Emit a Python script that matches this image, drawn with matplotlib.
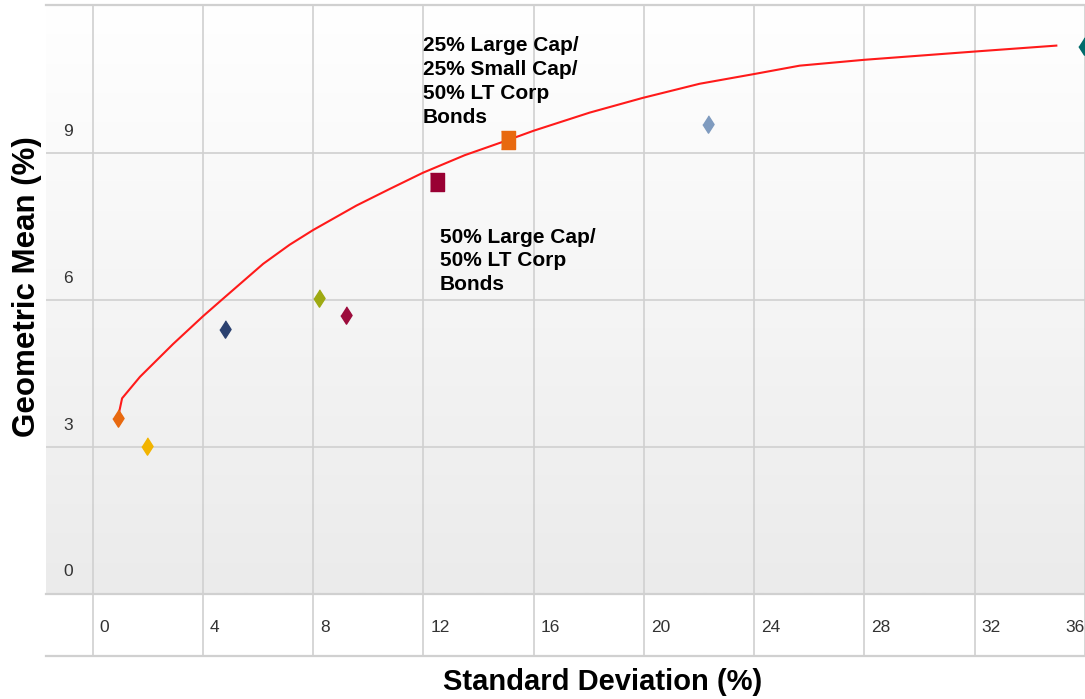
"""
Risk / return scatter with efficient frontier curve.
"""

import numpy as np
import matplotlib.pyplot as plt
from matplotlib.colors import LinearSegmentedColormap
from matplotlib.transforms import ScaledTranslation

# Efficient frontier (std dev %, geometric mean %)
FRONTIER_SD = [0.93, 1.07, 1.72, 2.92, 4.01, 4.74, 6.19, 7.15, 8.0, 9.57, 10.78, 11.98,
               13.50, 15.07, 16.0, 18.03, 19.95, 22.02, 24.01, 25.65, 28.0, 32.03, 34.96]
FRONTIER_GM = [3.62, 3.99, 4.43, 5.10, 5.67, 6.03, 6.74, 7.13, 7.43, 7.93, 8.27, 8.60,
               8.96, 9.27, 9.46, 9.83, 10.13, 10.42, 10.62, 10.79, 10.91, 11.08, 11.20]

# Single assets (diamonds)
ASSET_SD = [0.91, 1.96, 4.80, 8.21, 9.21, 22.32, 35.95]
ASSET_GM = [3.59, 3.01, 5.40, 6.05, 5.70, 9.60, 11.20]
ASSET_COLORS = ["#e8690f", "#f2b400", "#2b4170", "#9eaa12", "#9c0c3c", "#7f9bbf", "#006b6b"]

# Portfolios (squares)
PORT_SD = [12.49, 15.06]
PORT_GM = [8.41, 9.27]
PORT_COLORS = ["#990033", "#e8690f"]
PORT_LABELS = ["50% Large Cap/\n50% LT Corp\nBonds",
               "25% Large Cap/\n25% Small Cap/\n50% LT Corp\nBonds"]

X_TICKS = [0, 4, 8, 12, 16, 20, 24, 28, 32, 36]
Y_TICKS = [0, 3, 6, 9]

GRID = "#d0d0d0"

fig = plt.figure(figsize=(10.85, 6.99), dpi=100)
ax = fig.add_axes([46 / 1085, 1 - 593.5 / 699, 1039 / 1085, 588.5 / 699])
ax.set_xlim(-1.69, 35.98)
ax.set_ylim(0, 12.03)

# gradient background
grad = np.linspace(0, 1, 256).reshape(-1, 1)
ax.imshow(grad, extent=[0, 1, 0, 1], transform=ax.transAxes, aspect="auto",
          cmap=LinearSegmentedColormap.from_list("bg", ["#ffffff", "#ebebeb"]), zorder=0)

# grid, the verticals run down through the tick band
for x in X_TICKS:
    ax.plot([x, x], [-0.106, 1], color=GRID, lw=1.2, transform=ax.get_xaxis_transform(),
            clip_on=False, zorder=1)
for y in Y_TICKS[1:]:
    ax.axhline(y, color=GRID, lw=1.2, zorder=1)
ax.plot([0, 1], [-0.106, -0.106], color=GRID, lw=1.6, transform=ax.transAxes,
        clip_on=False, zorder=1)

for side in ["left", "right"]:
    ax.spines[side].set_visible(False)
for side in ["top", "bottom"]:
    ax.spines[side].set_color(GRID)
    ax.spines[side].set_linewidth(1.6)

# frontier line
ax.plot(FRONTIER_SD, FRONTIER_GM, color="#ff1a1a", lw=1.5, zorder=3,
        solid_joinstyle="round")

diamond = [(0, 0.5), (0.32, 0), (0, -0.5), (-0.32, 0)]
rect = [(-0.38, -0.5), (0.38, -0.5), (0.38, 0.5), (-0.38, 0.5)]
for x, y, c in zip(ASSET_SD, ASSET_GM, ASSET_COLORS):
    ax.plot(x, y, marker=diamond, ms=12.5, color=c, mec=c, ls="none", zorder=4,
            clip_on=False)
for x, y, c in zip(PORT_SD, PORT_GM, PORT_COLORS):
    ax.plot(x, y, marker=rect, ms=12.5, color=c, mec=c, ls="none", zorder=4)

# annotations
ax.text(12.6, 7.48, PORT_LABELS[0], fontsize=15, fontweight="bold",
        family="Liberation Sans", va="top", ha="left", linespacing=1.32, zorder=5)
ax.text(11.98, 11.39, PORT_LABELS[1], fontsize=15, fontweight="bold",
        family="Liberation Sans", va="top", ha="left", linespacing=1.32, zorder=5)

# ticks
ax.set_xticks(X_TICKS)
ax.set_xticklabels([str(t) for t in X_TICKS])
ax.set_yticks(Y_TICKS)
ax.set_yticklabels([str(t) for t in Y_TICKS])
ax.tick_params(length=0, pad=0, labelsize=12.5, labelcolor="#333333")
for lab in ax.get_xticklabels() + ax.get_yticklabels():
    lab.set_fontfamily("Liberation Sans")

for i, lab in enumerate(ax.get_xticklabels()):
    lab.set_verticalalignment("center")
    if i == len(X_TICKS) - 1:
        lab.set_horizontalalignment("right")
        off = ScaledTranslation(0.0, -0.34, fig.dpi_scale_trans)
    else:
        lab.set_horizontalalignment("left")
        off = ScaledTranslation(0.07, -0.34, fig.dpi_scale_trans)
    lab.set_transform(lab.get_transform() + off)

for lab in ax.get_yticklabels():
    lab.set_horizontalalignment("center")
    lab.set_verticalalignment("center")
    lab.set_transform(lab.get_transform() + ScaledTranslation(0.22, 0.215, fig.dpi_scale_trans))

fig.text(602.5 / 1085, 1 - 682 / 699, "Standard Deviation (%)", fontsize=21,
         fontweight="bold", family="Liberation Sans", ha="center", va="center")
fig.text(27.5 / 1085, 1 - 287 / 699, "Geometric Mean (%)", fontsize=22.5,
         fontweight="bold", family="Liberation Sans", ha="center", va="center",
         rotation=90)

fig.savefig("out.png", dpi=100)
